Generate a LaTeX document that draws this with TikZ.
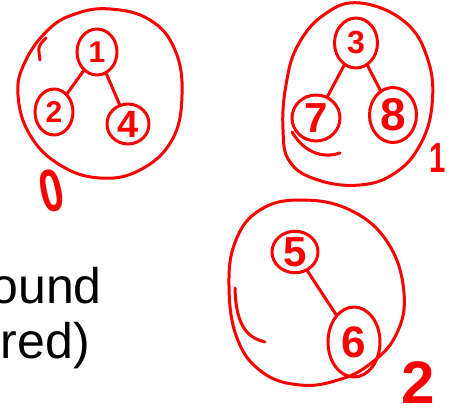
\documentclass[tikz,border=0pt]{standalone}
\usepackage{fontspec}
\setmainfont{Liberation Sans}
\usetikzlibrary{shapes.geometric}
\definecolor{inkred}{RGB}{250,0,0}
\begin{document}
\begin{tikzpicture}[x=1pt,y=-1pt,
  ink/.style={draw=inkred,line width=3pt,line cap=round,line join=round},
  blob/.style={ink,ellipse,inner sep=0pt,text=inkred,font=\bfseries\fontsize{#1}{#1}\selectfont},
  lab/.style={text=inkred,inner sep=0pt,anchor=base,font=\bfseries\fontsize{#1}{#1}\selectfont},
  words/.style={text=black,inner sep=0pt,anchor=base east,font=\fontsize{50}{55}\selectfont}]
\useasboundingbox (0,0) rectangle (456,412);
% tree 0
\draw[ink] plot[smooth cycle,tension=0.7] coordinates {(110,9) (150,20) (175,50) (182,95) (172,140) (140,170) (100,178) (60,165) (30,135) (18,95) (25,62) (48,30) (75,14)};
\draw[ink] (46,38) .. controls (38,46) .. (40,60);
\node[blob=30,minimum width=40pt,minimum height=46pt] (n1) at (97,52) {1};
\node[blob=30,minimum width=38pt,minimum height=46pt] (n2) at (54,112) {2};
\node[blob=38,minimum width=42pt,minimum height=40pt] (n4) at (128,124) {4};
\draw[ink] (n1) -- (n2);
\draw[ink] (n1) -- (n4);
\node[lab=60,rotate=12,xscale=0.7] (l0) at (56,211) {0};
% tree 1
\draw[ink] plot[smooth cycle,tension=0.7] coordinates {(360,3) (405,22) (428,60) (432,105) (420,145) (395,173) (360,185) (318,180) (290,162) (283,130) (286,85) (298,45) (325,14)};
\draw[ink] (292,132) .. controls (306,155) and (325,158) .. (340,153);
\node[blob=32,minimum width=43pt,minimum height=50pt] (n3) at (356,43) {3};
\node[blob=42,minimum width=48pt,minimum height=46pt] (n7) at (316,118) {7};
\node[blob=46,minimum width=47pt,minimum height=55pt] (n8) at (393,115) {8};
\draw[ink] (n3) -- (n7);
\draw[ink] (n3) -- (n8);
\node[lab=42,xscale=0.7] (l1) at (438,173) {1};
% tree 2
\draw[ink] plot[smooth cycle,tension=0.7] coordinates {(300,200) (350,210) (388,243) (404,293) (396,335) (370,364) (338,380) (300,385) (262,372) (237,338) (229,285) (236,240) (260,210)};
\draw[ink] (235,288) .. controls (236,330) and (250,338) .. (265,342);
\node[blob=42,minimum width=46pt,minimum height=38pt] (n5) at (295,252) {5};
\node[blob=44,minimum width=52pt,minimum height=70pt] (n6) at (354,342) {6};
\draw[ink] (n5) -- (n6);
\node[lab=60] (l2) at (418,403) {2};
% text
\node[words] (t1) at (102,303) {ound};
\node[words] (t2) at (90,358) {red)};
\end{tikzpicture}
\end{document}
